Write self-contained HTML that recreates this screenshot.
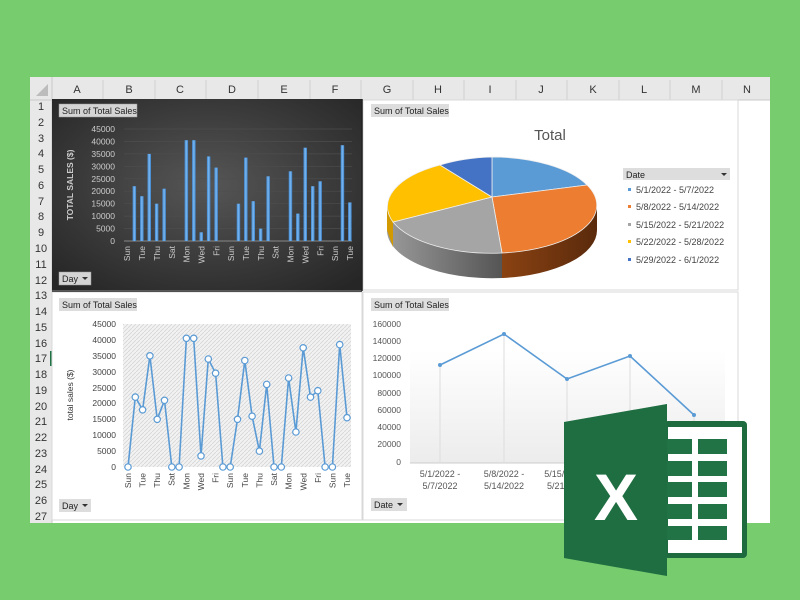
<!DOCTYPE html>
<html><head><meta charset="utf-8"><style>
html,body{margin:0;padding:0;width:800px;height:600px;overflow:hidden;background:#77cc6d}
svg{display:block}
text{font-family:"Liberation Sans",sans-serif}
</style></head><body>
<svg width="800" height="600" viewBox="0 0 800 600" xmlns="http://www.w3.org/2000/svg">
<defs>
<radialGradient id="dk" cx="0.5" cy="0.45" r="0.7"><stop offset="0" stop-color="#565656"/><stop offset="1" stop-color="#262626"/></radialGradient>
<linearGradient id="bar" x1="0" x2="1"><stop offset="0" stop-color="#3f86d0"/><stop offset="0.5" stop-color="#7ab8f0"/><stop offset="1" stop-color="#3a7fc8"/></linearGradient>
<pattern id="hatch" width="4" height="4" patternUnits="userSpaceOnUse"><rect width="4" height="4" fill="#f2f2f2"/><path d="M0 4L4 0" stroke="#d6d6d6" stroke-width="0.8"/></pattern>
<linearGradient id="plot" x1="0" y1="0" x2="0" y2="1"><stop offset="0" stop-color="#ffffff"/><stop offset="1" stop-color="#ececec"/></linearGradient>
<linearGradient id="gside" x1="0" x2="1"><stop offset="0" stop-color="#9a9a9a"/><stop offset="1" stop-color="#555"/></linearGradient>
<linearGradient id="oside" x1="0" x2="1"><stop offset="0" stop-color="#8a4212"/><stop offset="1" stop-color="#5a2a0c"/></linearGradient>
</defs>
<!-- sheet -->
<rect x="30" y="77" width="740" height="446" fill="#fff"/>
<rect x="30" y="77" width="740" height="23" fill="#e8e8e8"/>
<rect x="30" y="77" width="22" height="446" fill="#e8e8e8"/>
<line x1="30" y1="100" x2="770" y2="100" stroke="#c8c8c8"/>
<line x1="52" y1="77" x2="52" y2="523" stroke="#c8c8c8"/>
<path d="M48 84L48 96L36 96Z" fill="#bcbcbc"/>
<g stroke="#d0d0d0">
<line x1="103" y1="80" x2="103" y2="100"/><line x1="155" y1="80" x2="155" y2="100"/><line x1="206" y1="80" x2="206" y2="100"/><line x1="258" y1="80" x2="258" y2="100"/><line x1="310" y1="80" x2="310" y2="100"/><line x1="361" y1="80" x2="361" y2="100"/><line x1="413" y1="80" x2="413" y2="100"/><line x1="464" y1="80" x2="464" y2="100"/><line x1="516" y1="80" x2="516" y2="100"/><line x1="567" y1="80" x2="567" y2="100"/><line x1="619" y1="80" x2="619" y2="100"/><line x1="670" y1="80" x2="670" y2="100"/><line x1="722" y1="80" x2="722" y2="100"/>
</g>
<g font-size="11" fill="#333" text-anchor="middle">
<text x="77" y="93">A</text><text x="129" y="93">B</text><text x="180" y="93">C</text><text x="232" y="93">D</text><text x="284" y="93">E</text><text x="335" y="93">F</text><text x="387" y="93">G</text><text x="438" y="93">H</text><text x="490" y="93">I</text><text x="541" y="93">J</text><text x="593" y="93">K</text><text x="644" y="93">L</text><text x="696" y="93">M</text><text x="747" y="93">N</text>
</g>
<g font-size="11" fill="#333" text-anchor="middle">
<text x="41" y="110">1</text><text x="41" y="126">2</text><text x="41" y="142">3</text><text x="41" y="157">4</text><text x="41" y="173">5</text><text x="41" y="189">6</text><text x="41" y="205">7</text><text x="41" y="220">8</text><text x="41" y="236">9</text><text x="41" y="252">10</text><text x="41" y="268">11</text><text x="41" y="284">12</text><text x="41" y="299">13</text><text x="41" y="315">14</text><text x="41" y="331">15</text><text x="41" y="347">16</text><text x="41" y="362">17</text><text x="41" y="378">18</text><text x="41" y="394">19</text><text x="41" y="410">20</text><text x="41" y="425">21</text><text x="41" y="441">22</text><text x="41" y="457">23</text><text x="41" y="473">24</text><text x="41" y="488">25</text><text x="41" y="504">26</text><text x="41" y="520">27</text>
</g>
<rect x="50" y="351" width="2" height="15" fill="#217346"/>
<!-- right white panel borders -->
<rect x="363" y="100" width="375" height="190" fill="#fff" stroke="#d8d8d8"/>
<rect x="52" y="292" width="310" height="228" fill="#fff" stroke="#d8d8d8"/>
<rect x="363" y="292" width="375" height="228" fill="#fff" stroke="#d8d8d8"/>
<!-- dark bar chart -->
<rect x="52" y="99" width="310" height="191" fill="url(#dk)"/>
<rect x="59" y="104" width="78" height="13" fill="#d4d4d4" stroke="#999" stroke-width="0.5"/>
<text x="62" y="114" font-size="9" fill="#222">Sum of Total Sales</text>
<g stroke="#4d4d4d" stroke-width="0.7">
<line x1="124" y1="129" x2="352" y2="129"/><line x1="124" y1="141.4" x2="352" y2="141.4"/><line x1="124" y1="153.9" x2="352" y2="153.9"/><line x1="124" y1="166.3" x2="352" y2="166.3"/><line x1="124" y1="178.8" x2="352" y2="178.8"/><line x1="124" y1="191.2" x2="352" y2="191.2"/><line x1="124" y1="203.7" x2="352" y2="203.7"/><line x1="124" y1="216.1" x2="352" y2="216.1"/><line x1="124" y1="228.6" x2="352" y2="228.6"/>
</g>
<line x1="124" y1="241" x2="352" y2="241" stroke="#888"/>
<g font-size="8.5" fill="#ccc" text-anchor="end">
<text x="115" y="132">45000</text><text x="115" y="144.4">40000</text><text x="115" y="156.9">35000</text><text x="115" y="169.3">30000</text><text x="115" y="181.8">25000</text><text x="115" y="194.2">20000</text><text x="115" y="206.7">15000</text><text x="115" y="219.1">10000</text><text x="115" y="231.6">5000</text><text x="115" y="244">0</text>
</g>
<text transform="translate(73,185) rotate(-90)" font-size="8.5" font-weight="bold" fill="#ccc" text-anchor="middle">TOTAL SALES ($)</text>
<g fill="url(#bar)">
<rect x="132.6" y="186.2" width="3.5" height="54.8"/><rect x="140.1" y="196.2" width="3.5" height="44.8"/><rect x="147.5" y="153.9" width="3.5" height="87.1"/><rect x="154.9" y="203.7" width="3.5" height="37.3"/><rect x="162.4" y="188.7" width="3.5" height="52.3"/>
<rect x="184.6" y="140.2" width="3.5" height="100.8"/><rect x="192.1" y="140.2" width="3.5" height="100.8"/><rect x="199.5" y="232.3" width="3.5" height="8.7"/><rect x="206.9" y="156.4" width="3.5" height="84.6"/><rect x="214.4" y="167.6" width="3.5" height="73.4"/>
<rect x="236.7" y="203.7" width="3.5" height="37.3"/><rect x="244.1" y="157.6" width="3.5" height="83.4"/><rect x="251.5" y="201.2" width="3.5" height="39.8"/><rect x="258.9" y="228.6" width="3.5" height="12.4"/><rect x="266.4" y="176.3" width="3.5" height="64.7"/>
<rect x="288.7" y="171.3" width="3.5" height="69.7"/><rect x="296.1" y="213.6" width="3.5" height="27.4"/><rect x="303.5" y="147.7" width="3.5" height="93.3"/><rect x="311" y="186.2" width="3.5" height="54.8"/><rect x="318.4" y="181.3" width="3.5" height="59.7"/>
<rect x="340.7" y="145.2" width="3.5" height="95.8"/><rect x="348.1" y="202.4" width="3.5" height="38.6"/>
</g>
<g font-size="8.5" fill="#ccc" text-anchor="end">
<text transform="translate(130,246) rotate(-90)">Sun</text><text transform="translate(145,246) rotate(-90)">Tue</text><text transform="translate(160,246) rotate(-90)">Thu</text><text transform="translate(175,246) rotate(-90)">Sat</text><text transform="translate(189.5,246) rotate(-90)">Mon</text><text transform="translate(204.5,246) rotate(-90)">Wed</text><text transform="translate(219.5,246) rotate(-90)">Fri</text><text transform="translate(234,246) rotate(-90)">Sun</text><text transform="translate(249,246) rotate(-90)">Tue</text><text transform="translate(264,246) rotate(-90)">Thu</text><text transform="translate(278.5,246) rotate(-90)">Sat</text><text transform="translate(293.5,246) rotate(-90)">Mon</text><text transform="translate(308.5,246) rotate(-90)">Wed</text><text transform="translate(323.5,246) rotate(-90)">Fri</text><text transform="translate(338,246) rotate(-90)">Sun</text><text transform="translate(353,246) rotate(-90)">Tue</text>
</g>
<rect x="59" y="272" width="32" height="13" fill="#d4d4d4" stroke="#999" stroke-width="0.5"/>
<text x="62" y="282" font-size="9" fill="#222">Day</text><path d="M82 277L88 277L85 280Z" fill="#333"/>
<line x1="362" y1="99" x2="362" y2="291" stroke="#222" stroke-width="1.5"/>
<line x1="52" y1="291" x2="362" y2="291" stroke="#222" stroke-width="1.5"/>
<!-- pie chart -->
<rect x="371" y="104" width="78" height="13" fill="#ddd"/>
<text x="374" y="114" font-size="9" fill="#222">Sum of Total Sales</text>
<text x="550" y="140" font-size="15" fill="#555" text-anchor="middle">Total</text>
<path d="M387 205 L387 230 A105 48 0 0 0 502 278 L502 253 A105 48 0 0 1 387 205Z" fill="url(#gside)"/>
<path d="M502 253 L502 278 A105 48 0 0 0 597 230 L597 205 A105 48 0 0 1 502 253Z" fill="url(#oside)"/>
<path d="M387 205 L387 230 L393 247 L393 222Z" fill="#d39a00"/>
<path d="M492 197 L492 157 A105 48 0 0 1 587 185Z" fill="#5b9bd5" stroke="#eee" stroke-width="0.8"/>
<path d="M492 197 L587 185 A105 48 0 0 1 502 253Z" fill="#ed7d31" stroke="#eee" stroke-width="0.8"/>
<path d="M492 197 L502 253 A105 48 0 0 1 393 222Z" fill="#a5a5a5" stroke="#eee" stroke-width="0.8"/>
<path d="M492 197 L393 222 A105 48 0 0 1 440 165Z" fill="#ffc000" stroke="#eee" stroke-width="0.8"/>
<path d="M492 197 L440 165 A105 48 0 0 1 492 157Z" fill="#4472c4" stroke="#eee" stroke-width="0.8"/>
<rect x="623" y="168" width="107" height="12" fill="#ddd"/>
<text x="626" y="178" font-size="9" fill="#222">Date</text><path d="M721 173L727 173L724 176Z" fill="#333"/>
<g font-size="9" fill="#444">
<rect x="628" y="188" width="3" height="3" fill="#5b9bd5"/><text x="636" y="193">5/1/2022 - 5/7/2022</text>
<rect x="628" y="205" width="3" height="3" fill="#ed7d31"/><text x="636" y="210">5/8/2022 - 5/14/2022</text>
<rect x="628" y="223" width="3" height="3" fill="#a5a5a5"/><text x="636" y="228">5/15/2022 - 5/21/2022</text>
<rect x="628" y="240" width="3" height="3" fill="#ffc000"/><text x="636" y="245">5/22/2022 - 5/28/2022</text>
<rect x="628" y="258" width="3" height="3" fill="#4472c4"/><text x="636" y="263">5/29/2022 - 6/1/2022</text>
</g>
<!-- line chart left -->
<rect x="59" y="298" width="78" height="13" fill="#ddd"/>
<text x="62" y="308" font-size="9" fill="#222">Sum of Total Sales</text>
<rect x="123" y="324" width="228" height="143" fill="url(#hatch)"/>
<g font-size="8.5" fill="#444" text-anchor="end">
<text x="116" y="327">45000</text><text x="116" y="343">40000</text><text x="116" y="359">35000</text><text x="116" y="375">30000</text><text x="116" y="391">25000</text><text x="116" y="406">20000</text><text x="116" y="422">15000</text><text x="116" y="438">10000</text><text x="116" y="454">5000</text><text x="116" y="470">0</text>
</g>
<text transform="translate(73,395) rotate(-90)" font-size="8.5" fill="#333" text-anchor="middle">total sales ($)</text>
<polyline fill="none" stroke="#5b9bd5" stroke-width="1.6" points="128,467 135.3,397.1 142.6,409.8 149.9,355.8 157.2,419.3 164.5,400.3 171.8,467 179.1,467 186.4,338.3 193.7,338.3 201,455.9 208.3,359 215.6,373.2 222.9,467 230.2,467 237.5,419.3 244.8,360.5 252.1,416.2 259.4,451.1 266.7,384.4 274,467 281.3,467 288.6,378 295.9,432 303.2,347.8 310.5,397.1 317.8,390.7 325.1,467 332.4,467 339.7,344.6 347,417.7"/>
<g fill="#fff" stroke="#5b9bd5" stroke-width="1.2">
<circle cx="128" cy="467" r="3.2"/><circle cx="135.3" cy="397.1" r="3.2"/><circle cx="142.6" cy="409.8" r="3.2"/><circle cx="149.9" cy="355.8" r="3.2"/><circle cx="157.2" cy="419.3" r="3.2"/><circle cx="164.5" cy="400.3" r="3.2"/><circle cx="171.8" cy="467" r="3.2"/><circle cx="179.1" cy="467" r="3.2"/><circle cx="186.4" cy="338.3" r="3.2"/><circle cx="193.7" cy="338.3" r="3.2"/><circle cx="201" cy="455.9" r="3.2"/><circle cx="208.3" cy="359" r="3.2"/><circle cx="215.6" cy="373.2" r="3.2"/><circle cx="222.9" cy="467" r="3.2"/><circle cx="230.2" cy="467" r="3.2"/><circle cx="237.5" cy="419.3" r="3.2"/><circle cx="244.8" cy="360.5" r="3.2"/><circle cx="252.1" cy="416.2" r="3.2"/><circle cx="259.4" cy="451.1" r="3.2"/><circle cx="266.7" cy="384.4" r="3.2"/><circle cx="274" cy="467" r="3.2"/><circle cx="281.3" cy="467" r="3.2"/><circle cx="288.6" cy="378" r="3.2"/><circle cx="295.9" cy="432" r="3.2"/><circle cx="303.2" cy="347.8" r="3.2"/><circle cx="310.5" cy="397.1" r="3.2"/><circle cx="317.8" cy="390.7" r="3.2"/><circle cx="325.1" cy="467" r="3.2"/><circle cx="332.4" cy="467" r="3.2"/><circle cx="339.7" cy="344.6" r="3.2"/><circle cx="347" cy="417.7" r="3.2"/>
</g>
<g font-size="8.5" fill="#444" text-anchor="end">
<text transform="translate(131,473) rotate(-90)">Sun</text><text transform="translate(145.5,473) rotate(-90)">Tue</text><text transform="translate(160,473) rotate(-90)">Thu</text><text transform="translate(174.5,473) rotate(-90)">Sat</text><text transform="translate(189.5,473) rotate(-90)">Mon</text><text transform="translate(204,473) rotate(-90)">Wed</text><text transform="translate(218.5,473) rotate(-90)">Fri</text><text transform="translate(233,473) rotate(-90)">Sun</text><text transform="translate(248,473) rotate(-90)">Tue</text><text transform="translate(262.5,473) rotate(-90)">Thu</text><text transform="translate(277,473) rotate(-90)">Sat</text><text transform="translate(291.5,473) rotate(-90)">Mon</text><text transform="translate(306.5,473) rotate(-90)">Wed</text><text transform="translate(321,473) rotate(-90)">Fri</text><text transform="translate(335.5,473) rotate(-90)">Sun</text><text transform="translate(350,473) rotate(-90)">Tue</text>
</g>
<rect x="59" y="499" width="32" height="13" fill="#ddd"/>
<text x="62" y="509" font-size="9" fill="#222">Day</text><path d="M82 504L88 504L85 507Z" fill="#333"/>
<!-- line chart right -->
<rect x="371" y="298" width="78" height="13" fill="#ddd"/>
<text x="374" y="308" font-size="9" fill="#222">Sum of Total Sales</text>
<rect x="410" y="350" width="315" height="113" fill="url(#plot)"/>
<line x1="410" y1="463" x2="725" y2="463" stroke="#ccc"/>
<g font-size="8.5" fill="#555" text-anchor="end">
<text x="401" y="327">160000</text><text x="401" y="344">140000</text><text x="401" y="361">120000</text><text x="401" y="378">100000</text><text x="401" y="396">80000</text><text x="401" y="413">60000</text><text x="401" y="430">40000</text><text x="401" y="447">20000</text><text x="401" y="465">0</text>
</g>
<g stroke="#ddd"><line x1="440" y1="365" x2="440" y2="463"/><line x1="504" y1="334" x2="504" y2="463"/><line x1="567" y1="379" x2="567" y2="463"/><line x1="630" y1="356" x2="630" y2="463"/><line x1="694" y1="415" x2="694" y2="463"/></g>
<polyline fill="none" stroke="#5b9bd5" stroke-width="1.6" points="440,365 504,334 567,379 630,356 694,415"/>
<g fill="#5b9bd5"><circle cx="440" cy="365" r="2"/><circle cx="504" cy="334" r="2"/><circle cx="567" cy="379" r="2"/><circle cx="630" cy="356" r="2"/><circle cx="694" cy="415" r="2"/></g>
<g font-size="9" fill="#555" text-anchor="middle">
<text x="440" y="477">5/1/2022 -</text><text x="440" y="489">5/7/2022</text>
<text x="504" y="477">5/8/2022 -</text><text x="504" y="489">5/14/2022</text>
<text x="567" y="477">5/15/2022 -</text><text x="567" y="489">5/21/2022</text>
</g>
<rect x="371" y="498" width="36" height="13" fill="#ddd"/>
<text x="374" y="508" font-size="9" fill="#222">Date</text><path d="M397 503L403 503L400 506Z" fill="#333"/>
<!-- excel logo -->
<rect x="664" y="421" width="83" height="137" rx="4" fill="#1d6b3f"/>
<rect x="668" y="427" width="74" height="126" fill="#fff"/>
<g fill="#217346">
<rect x="667" y="439" width="25" height="15"/><rect x="698" y="439" width="29" height="15"/>
<rect x="667" y="461" width="25" height="15"/><rect x="698" y="461" width="29" height="15"/>
<rect x="667" y="482" width="25" height="15"/><rect x="698" y="482" width="29" height="15"/>
<rect x="667" y="504" width="25" height="15"/><rect x="698" y="504" width="29" height="15"/>
<rect x="667" y="526" width="25" height="14"/><rect x="698" y="526" width="29" height="14"/>
</g>
<path d="M564 422 L667 404 L667 576 L564 558Z" fill="#217346"/>
<path d="M564 422 L667 404 L667 576 L564 558Z" fill="#1a5e38" opacity="0.25"/>
<text x="616" y="520" font-size="66" font-weight="bold" fill="#fff" text-anchor="middle">X</text>
</svg>
</body></html>
